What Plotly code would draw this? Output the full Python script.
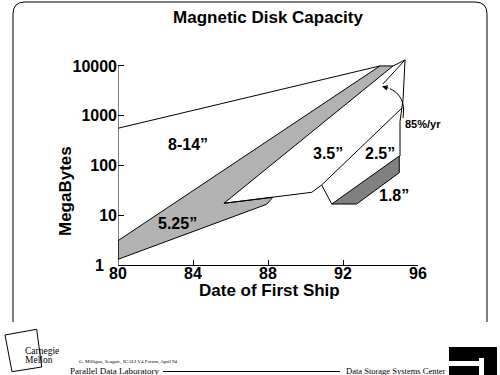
import numpy as np
import plotly.graph_objects as go

# ---------------- data (year of first ship, MegaBytes) ----------------
large_top_year = [80.0, 93.97]
large_top_mb = [560, 10000]

band525_year = [80.0, 93.97, 94.67, 85.65, 88.25, 87.93, 80.0, 80.0]
band525_mb = [3.08, 10000, 10000, 17.4, 22.9, 16.6, 1.30, 3.08]

small_lower_year = [85.65, 88.25, 90.33, 90.86, 95.15]
small_lower_mb = [17.4, 22.9, 28.9, 40.5, 1432]

connector_year = [90.86, 91.40]
connector_mb = [40.5, 16.8]

band18_year = [91.40, 95.0, 95.0, 92.73, 91.40]
band18_mb = [16.8, 155, 71.7, 16.8, 16.8]

right_edge_year = [94.67, 95.31, 95.2, 95.04, 95.04]
right_edge_mb = [10000, 13200, 2070, 759, 155]

upper_line_year = [95.31, 94.13]
upper_line_mb = [13200, 4350]

arrow_year = [95.2, 95.23, 95.12, 94.86, 94.51]
arrow_mb = [900, 1430, 2100, 2870, 3500]
arrow_tip = (94.08, 3910)

yaxis_year = [80, 80]
yaxis_mb = [1, 10000]

x_ticks = [80, 84, 88, 92, 96]
x_ticklabels = ["80", "84", "88", "92", "96"]
y_ticks = [1, 10, 100, 1000, 10000]
y_ticklabels = ["1", "10", "100", "1000", "10000"]

labels = ["8-14\u201d", "5.25\u201d", "3.5\u201d", "2.5\u201d", "1.8\u201d"]
label_year = [83.73, 83.15, 91.2, 93.97, 94.72]
label_mb = [270, 6.67, 178, 178, 25.5]
rate_label = "85%/yr"

# ---------------- layout geometry ----------------
W, H = 500, 375
ML, MR, MT, MB = 118, 82, 56, 110
PW, PH = W - ML - MR, H - MT - MB


def px(x):
    return (x - ML) / PW


def py(y):
    return (H - MB - y) / PH


BLACK = "black"
LIGHT = "#b2b2b2"
DARK = "#808080"
SANS = "Liberation Sans, Arial, sans-serif"
SERIF = "Liberation Serif, Times New Roman, serif"
TICKFONT = dict(family=SANS, size=16, color=BLACK, weight="bold")

fig = go.Figure()


def line(xs, ys, fill=None):
    kw = dict(x=xs, y=ys, mode="lines", line=dict(color=BLACK, width=1),
              hoverinfo="skip", showlegend=False)
    if fill:
        kw.update(fill="toself", fillcolor=fill)
    fig.add_trace(go.Scatter(**kw))


line(band525_year, band525_mb, LIGHT)
line(band18_year, band18_mb, DARK)
line(large_top_year, large_top_mb)
line(small_lower_year, small_lower_mb)
line(connector_year, connector_mb)
line(right_edge_year, right_edge_mb)
line(upper_line_year, upper_line_mb)
line(yaxis_year, yaxis_mb)
fig.add_trace(go.Scatter(x=arrow_year, y=arrow_mb, mode="lines",
                         line=dict(color=BLACK, width=1, shape="spline"),
                         hoverinfo="skip", showlegend=False))

ann = []
ann.append(dict(x=arrow_tip[0], y=np.log10(arrow_tip[1]), xref="x", yref="y",
                ax=arrow_year[-1], ay=np.log10(arrow_mb[-1]), axref="x", ayref="y",
                text="", showarrow=True, arrowhead=2, arrowsize=1.1, arrowwidth=1,
                arrowcolor=BLACK))
for t, xv, yv in zip(labels, label_year, label_mb):
    ann.append(dict(x=xv, y=np.log10(yv), xref="x", yref="y", text=t, showarrow=False,
                    xanchor="center", yanchor="middle",
                    font=dict(family=SANS, size=16, color=BLACK, weight="bold")))

# the lowest y tick label sits a little left of the others (clear of "80")
ann.append(dict(x=px(106), y=np.log10(y_ticks[0]), xref="paper", yref="y",
                text=y_ticklabels[0], xanchor="right", yanchor="middle",
                showarrow=False, font=TICKFONT))
y_ticktext = [""] + y_ticklabels[1:]


def paper_text(text, x, y, size, family=SANS, bold=True, xanchor="center", angle=0):
    f = dict(family=family, size=size, color=BLACK)
    if bold:
        f["weight"] = "bold"
    ann.append(dict(x=px(x), y=py(y), xref="paper", yref="paper", text=text,
                    xanchor=xanchor, yanchor="middle", textangle=angle,
                    showarrow=False, font=f))


paper_text(rate_label, 423, 124, 11)
paper_text("MegaBytes", 66, 191, 17, angle=-90)
paper_text("Date of First Ship", 269, 290, 17)
paper_text("Carnegie", 23, 351, 9.5, SERIF, False, "left")
paper_text("Mellon", 23, 360, 9.5, SERIF, False, "left")
paper_text("G. Milligan, Seagate, ICALI V4 Forum, April 94", 77, 361.5, 5, SERIF, False, "left")
paper_text("Parallel Data Laboratory", 68, 371, 9, SERIF, False, "left")
paper_text("Data Storage Systems Center", 344, 371, 8.5, SERIF, False, "left")

shapes = []
frame = (f"M {px(13)},{py(322)} L {px(13)},{py(14)} Q {px(13)},{py(2)} {px(25)},{py(2)} "
         f"L {px(475)},{py(2)} Q {px(487)},{py(2)} {px(487)},{py(14)} L {px(487)},{py(322)}")
shapes.append(dict(type="path", path=frame, xref="paper", yref="paper",
                   line=dict(color=BLACK, width=1)))
cm = (f"M {px(5)},{py(335)} L {px(36.7)},{py(329.3)} L {px(41.7)},{py(367)} "
      f"L {px(12)},{py(371.7)} Z")
shapes.append(dict(type="path", path=cm, xref="paper", yref="paper",
                   line=dict(color=BLACK, width=1)))
shapes.append(dict(type="line", x0=px(163), x1=px(340), y0=py(371.5), y1=py(371.5),
                   xref="paper", yref="paper", line=dict(color=BLACK, width=1)))
shapes.append(dict(type="rect", x0=px(449), x1=px(497), y0=py(375), y1=py(347),
                   xref="paper", yref="paper", fillcolor=BLACK, line=dict(width=0)))
shapes.append(dict(type="rect", x0=px(449), x1=px(479), y0=py(366), y1=py(361),
                   xref="paper", yref="paper", fillcolor="white", line=dict(width=0)))
shapes.append(dict(type="rect", x0=px(479), x1=px(484), y0=py(375), y1=py(358),
                   xref="paper", yref="paper", fillcolor="white", line=dict(width=0)))

fig.update_layout(
    width=W, height=H,
    margin=dict(l=ML, r=MR, t=MT, b=MB),
    paper_bgcolor="white", plot_bgcolor="white",
    showlegend=False, hovermode=False,
    title=dict(text="Magnetic Disk Capacity", x=0.5, xref="paper", xanchor="center",
               y=1 - 17 / H, yref="container", yanchor="middle",
               font=dict(family=SANS, size=17, color=BLACK, weight="bold")),
    xaxis=dict(range=[80, 96], tickvals=x_ticks, ticktext=x_ticklabels,
               ticks="inside", ticklen=5, tickcolor=BLACK, tickwidth=1,
               ticklabelstandoff=-6,
               showline=True, linecolor=BLACK, linewidth=1, showgrid=False, zeroline=False,
               tickfont=TICKFONT),
    yaxis=dict(type="log", range=[0, 4.2], tickvals=y_ticks, ticktext=y_ticktext,
               ticks="inside", ticklen=6, tickcolor=BLACK, tickwidth=1,
               showline=False, showgrid=False, zeroline=False,
               tickfont=TICKFONT),
    annotations=ann,
    shapes=shapes,
)

fig.write_html("out.html", config={"displayModeBar": False},
               post_script="document.body.style.margin='0';")
